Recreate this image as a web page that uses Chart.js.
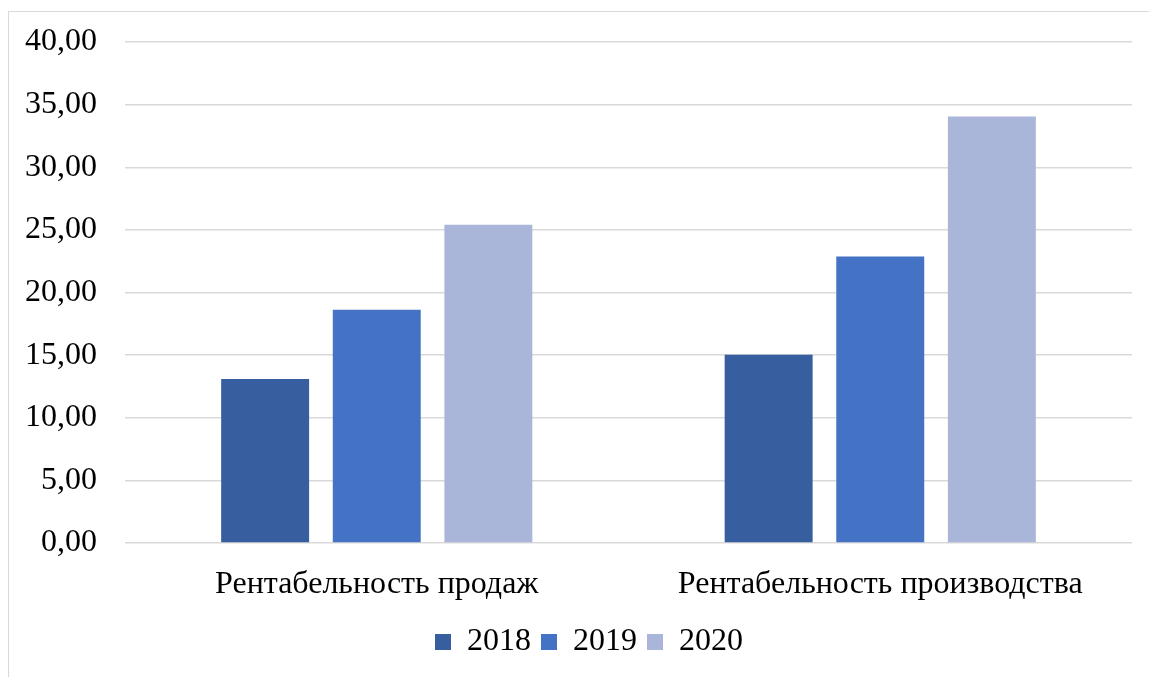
<!DOCTYPE html>
<html lang="ru">
<head>
<meta charset="utf-8">
<script src="https://cdn.jsdelivr.net/npm/chart.js@4/dist/chart.umd.min.js"></script>
<style>
  body { margin: 0; background: #fff; }
  #wrap { position: relative; width: 1149px; height: 677px; overflow: hidden; }
  #frame { position: absolute; left: 8px; top: 11px; width: 1200px; height: 700px; border: 1.5px solid #d9d9d9; }
  #chart { position: absolute; left: 0; top: 0; }
</style>
</head>
<body>
<div id="wrap">
  <div id="frame"></div>
  <canvas id="chart" width="1149" height="677"></canvas>
</div>
<script>
// Данные диаграммы
const categories = ['Рентабельность продаж', 'Рентабельность производства'];
const years = ['2018', '2019', '2020'];
const values2018 = [13.09, 15.03];
const values2019 = [18.62, 22.87];
const values2020 = [25.40, 34.05];
const colors = ['#375E9F', '#4472C4', '#A9B6DA'];

const serif = "'Liberation Serif', 'Times New Roman', serif";

const series = [values2018, values2019, values2020];

// легенда в оригинале чуть правее центра
const shiftLegend = {
    id: 'shiftLegend',
    afterLayout: function(chart) {
        if (chart.legend) {
            chart.legend.left += 23;
            chart.legend.right += 23;
        }
    }
};

new Chart(document.getElementById('chart').getContext('2d'), {
    type: 'bar',
    data: {
        labels: categories,
        datasets: years.map(function(y, i) {
            return {
                label: y,
                data: series[i],
                backgroundColor: colors[i],
                categoryPercentage: 0.665,
                barPercentage: 0.788
            };
        })
    },
    options: {
        responsive: false,
        animation: false,
        layout: {
            padding: { left: 0, right: 17, top: 42, bottom: 9 }
        },
        scales: {
            x: {
                grid: { display: false },
                border: { display: false },
                ticks: {
                    color: '#000',
                    padding: 14,
                    font: { family: serif, size: 32 }
                },
                afterFit: function(scale) { scale.height = 73; }
            },
            y: {
                min: 0,
                max: 40,
                ticks: {
                    stepSize: 5,
                    color: '#000',
                    padding: 28,
                    font: { family: serif, size: 32 },
                    callback: function(v) { return v.toFixed(2).replace('.', ','); }
                },
                grid: { color: '#d9d9d9', lineWidth: 1.5, drawTicks: false },
                border: { display: false },
                afterFit: function(scale) {
                    scale.width = 125;
                    scale.paddingTop = 0;
                    scale.paddingBottom = 0;
                }
            }
        },
        plugins: {
            legend: {
                position: 'bottom',
                labels: {
                    color: '#000',
                    boxWidth: 16,
                    boxHeight: 16,
                    padding: 10,
                    font: { family: serif, size: 32, lineHeight: 1 }
                }
            },
            tooltip: { enabled: false }
        }
    },
    plugins: [shiftLegend]
});
</script>
</body>
</html>
